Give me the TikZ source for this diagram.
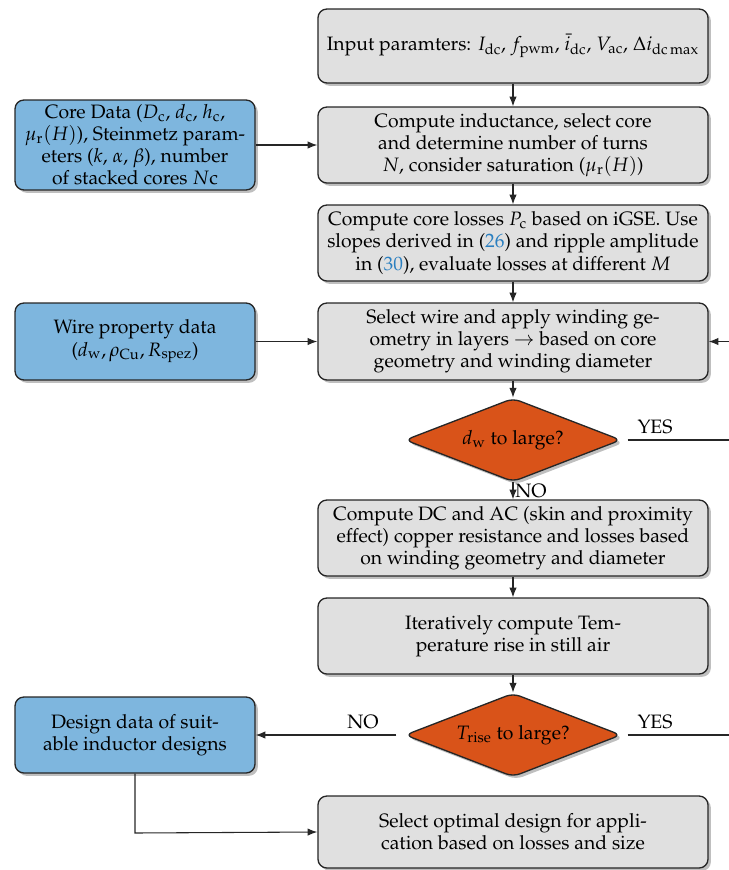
\documentclass[tikz,border=0pt]{standalone}
\usepackage[T1]{fontenc}
\usepackage{mathpazo}
\usetikzlibrary{shapes.geometric,arrows.meta,shadows}
\definecolor{boxgray}{HTML}{E0E0E0}
\definecolor{boxblue}{HTML}{7EB6DE}
\definecolor{diaorange}{HTML}{D95319}
\definecolor{citeblue}{HTML}{2A7FC0}
\tikzset{
  base/.style={draw=black!85, line width=0.75pt, rounded corners=5pt, align=center,
    font=\fontsize{10.9}{12.4}\selectfont, inner sep=2pt,
    drop shadow={shadow xshift=1.6pt, shadow yshift=-1.6pt, fill=black, opacity=0.25}},
  procbox/.style={base, fill=boxgray, minimum width=219.4pt, minimum height=42.75pt},
  databox/.style={base, fill=boxblue, minimum width=135pt, minimum height=42.75pt},
  decision/.style={base, diamond, aspect=2.6, fill=diaorange, rounded corners=4pt,
    minimum width=121.5pt, minimum height=47pt, inner sep=0pt},
  conn/.style={draw=black!85, line width=0.6pt, -{Latex[length=5.5pt,width=4.2pt]}},
  plainconn/.style={draw=black!85, line width=0.6pt},
  lbl/.style={font=\fontsize{10.9}{12.4}\selectfont, inner sep=0pt}
}
\begin{document}
\begin{tikzpicture}[x=0.5625pt,y=-0.5625pt]
\useasboundingbox (0,0) rectangle (729,870);
\clip (0,0) rectangle (729,870);

\node[procbox, minimum height=41.6pt] (input) at (513,46)
  {Input paramters: $I_\mathrm{dc}$, $f_\mathrm{pwm}$, $\bar{i}_\mathrm{dc}$, $V_\mathrm{ac}$, $\Delta i_{\mathrm{dc}\,\mathrm{max}}$};
\node[procbox] (induct) at (513,145)
  {Compute inductance, select core\\ and determine number of turns\\ $N$, consider saturation ($\mu_\mathrm{r}(H)$)};
\node[databox, minimum height=50.6pt] (core) at (135,145)
  {Core Data ($D_\mathrm{c}$, $d_\mathrm{c}$, $h_\mathrm{c}$,\\ $\mu_\mathrm{r}(H)$), Steinmetz param-\\ eters ($k$, $\alpha$, $\beta$), number\\ of stacked cores $N$c};
\node[procbox] (closs) at (513,243)
  {Compute core losses $P_\mathrm{c}$ based on iGSE. Use\\ slopes derived in (\textcolor{citeblue}{26}) and ripple amplitude\\ in (\textcolor{citeblue}{30}), evaluate losses at different $M$};
\node[procbox, minimum height=43.3pt] (wire) at (513,341.5)
  {Select wire and apply winding ge-\\ ometry in layers $\rightarrow$ based on core\\ geometry and winding diameter};
\node[databox, minimum height=43.3pt] (wdata) at (135,341.5)
  {Wire property data\\ ($d_\mathrm{w}, \rho_\mathrm{Cu}, R_\mathrm{spez}$)};
\node[decision] (dw) at (513,440) {$d_\mathrm{w}$ to large?};
\node[procbox] (cu) at (513,538)
  {Compute DC and AC (skin and proximity\\ effect) copper resistance and losses based\\ on winding geometry and diameter};
\node[procbox] (temp) at (513,636)
  {Iteratively compute Tem-\\ perature rise in still air};
\node[decision] (tr) at (513,735) {$T_\mathrm{rise}$ to large?};
\node[databox] (design) at (135,735)
  {Design data of suit-\\ able inductor designs};
\node[procbox, minimum height=40.5pt] (opt) at (513,832)
  {Select optimal design for appli-\\ cation based on losses and size};

\coordinate (loopA) at (760,440);
\coordinate (loopB) at (760,735);
\coordinate (loopC) at (760,341.5);
\coordinate (bend) at (135,833);

\draw[conn] (input) -- (induct);
\draw[conn] (induct) -- (closs);
\draw[conn] (closs) -- (wire);
\draw[conn] (wire) -- (dw);
\draw[conn] (dw) -- (cu);
\draw[conn] (cu) -- (temp);
\draw[conn] (temp) -- (tr);
\draw[conn] (core) -- (induct);
\draw[conn] (wdata) -- (wire);
\draw[conn] (tr.west) ++(-8,0) -- (design.east);
\draw[plainconn] (dw.east) ++(6,0) -- (loopA) -- (loopC);
\draw[plainconn] (tr.east) ++(6,0) -- (loopB) -- (loopA);
\draw[conn] (loopC) -- (wire.east);
\draw[conn] (design.south) -- (bend) -- (opt.west);

\node[lbl] (yes1) at (655,427) {YES};
\node[lbl] (no1) at (531,491) {NO};
\node[lbl] (no2) at (363,722) {NO};
\node[lbl] (yes2) at (655,722) {YES};
\end{tikzpicture}
\end{document}
